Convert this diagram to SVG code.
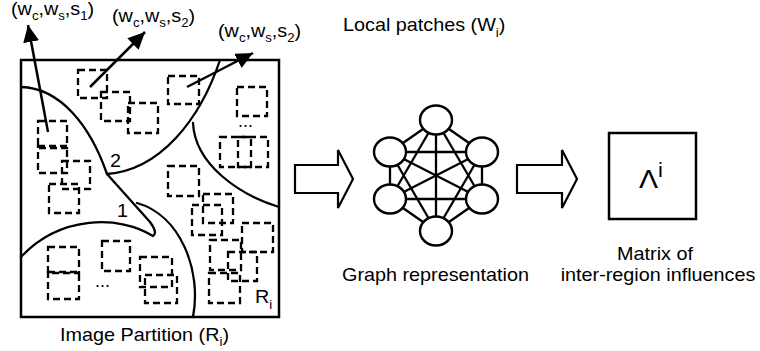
<svg xmlns="http://www.w3.org/2000/svg" width="760" height="351" viewBox="0 0 760 351">
  <style>
    text { font-family: "Liberation Sans", Arial, sans-serif; font-size: 18px; fill: #000; }
    .sub { font-size: 12px; }
    .frame { fill: none; stroke: #000; stroke-width: 2.5; }
    .edge { fill: none; stroke: #000; stroke-width: 2.3; stroke-linecap: round; }
    .patch { fill: none; stroke: #000; stroke-width: 2.3; stroke-dasharray: 7 4; }
    .ptr { fill: none; stroke: #000; stroke-width: 2.5; }
    .block { fill: #fff; stroke: #000; stroke-width: 2.2; stroke-linejoin: miter; }
    .link { stroke: #000; stroke-width: 2.3; }
    .vertex { fill: #fff; stroke: #000; stroke-width: 2.4; }
  </style>
  <defs>
    <marker id="head" markerUnits="userSpaceOnUse" markerWidth="20" markerHeight="16" refX="17" refY="8" orient="auto">
      <path d="M0,0 L17,8 L0,16 Z" fill="#000"/>
    </marker>
  </defs>
  <rect width="760" height="351" fill="#fff"/>

  <!-- image partition: frame, region boundaries, patches -->
  <g id="partition">
    <g id="patches">
      <rect class="patch" x="78" y="70" width="29" height="28"/>
      <rect class="patch" x="101" y="92" width="29" height="29"/>
      <rect class="patch" x="128" y="103" width="30" height="30"/>
      <rect class="patch" x="168" y="76" width="31" height="28"/>
      <rect class="patch" x="237" y="87" width="30" height="29"/>
      <rect class="patch" x="220" y="137" width="31" height="30"/>
      <rect class="patch" x="238" y="137" width="30" height="30"/>
      <rect class="patch" x="38" y="121" width="29" height="27"/>
      <rect class="patch" x="38" y="146" width="29" height="27"/>
      <rect class="patch" x="62" y="161" width="28" height="28"/>
      <rect class="patch" x="49" y="184" width="30" height="29"/>
      <rect class="patch" x="168" y="166" width="31" height="30"/>
      <rect class="patch" x="192" y="205" width="30" height="30"/>
      <rect class="patch" x="203" y="194" width="30" height="29"/>
      <rect class="patch" x="242" y="223" width="31" height="29"/>
      <rect class="patch" x="210" y="240" width="31" height="30"/>
      <rect class="patch" x="228" y="252" width="29" height="29"/>
      <rect class="patch" x="209" y="273" width="31" height="30"/>
      <rect class="patch" x="48" y="247" width="31" height="26"/>
      <rect class="patch" x="48" y="272" width="31" height="27"/>
      <rect class="patch" x="102" y="241" width="28" height="30"/>
      <rect class="patch" x="140" y="257" width="32" height="30"/>
      <rect class="patch" x="145" y="275" width="32" height="28"/>
      <text x="238" y="127">...</text>
      <text x="95" y="287">...</text>
    </g>
    <g id="regions">
      <path class="edge" d="M21,87 C60,88 90,125 107,174"/>
      <path class="edge" d="M107,174 C160,170 200,120 220,60"/>
      <path class="edge" d="M193,123 C195,165 240,195 279,207"/>
      <path class="edge" d="M107,174 L150,222 Q158,233 153,236 C120,215 60,215 21,257"/>
      <path class="edge" d="M137,203 C180,215 202,270 193,317"/>
    </g>
    <rect class="frame" x="21" y="60" width="258" height="257"/>
    <text transform="translate(110,167) scale(1.1,1)">2</text>
    <text transform="translate(117,217) scale(1.1,1)">1</text>
    <text transform="translate(255,303) scale(1.1,1)">R<tspan class="sub" dy="6">i</tspan></text>
    <text transform="translate(60,341) scale(1.1,1)">Image Partition (R<tspan class="sub" dy="5">i</tspan><tspan dy="-5">)</tspan></text>
  </g>

  <!-- patch descriptors -->
  <g id="descriptors">
    <text transform="translate(11,15) scale(1.1,1)">(w<tspan class="sub" dy="5">c</tspan><tspan dy="-5">,w</tspan><tspan class="sub" dy="5">s</tspan><tspan dy="-5">,s</tspan><tspan class="sub" dy="5">1</tspan><tspan dy="-5">)</tspan></text>
    <text transform="translate(112,22) scale(1.1,1)">(w<tspan class="sub" dy="5">c</tspan><tspan dy="-5">,w</tspan><tspan class="sub" dy="5">s</tspan><tspan dy="-5">,s</tspan><tspan class="sub" dy="5">2</tspan><tspan dy="-5">)</tspan></text>
    <text transform="translate(218,37) scale(1.1,1)">(w<tspan class="sub" dy="5">c</tspan><tspan dy="-5">,w</tspan><tspan class="sub" dy="5">s</tspan><tspan dy="-5">,s</tspan><tspan class="sub" dy="5">2</tspan><tspan dy="-5">)</tspan></text>
    <text transform="translate(343,31) scale(1.1,1)">Local patches (W<tspan class="sub" dy="6">i</tspan><tspan dy="-6">)</tspan></text>
  </g>

  <!-- graph of regions -->
  <g id="graph">
    <g id="graph-links">
      <line class="link" x1="436" y1="120" x2="390" y2="152"/>
      <line class="link" x1="436" y1="120" x2="482" y2="152"/>
      <line class="link" x1="390" y1="152" x2="390" y2="199"/>
      <line class="link" x1="482" y1="152" x2="482" y2="199"/>
      <line class="link" x1="390" y1="199" x2="436" y2="231"/>
      <line class="link" x1="482" y1="199" x2="436" y2="231"/>
      <line class="link" x1="390" y1="152" x2="482" y2="152"/>
      <line class="link" x1="390" y1="199" x2="482" y2="199"/>
      <line class="link" x1="436" y1="120" x2="436" y2="231"/>
      <line class="link" x1="436" y1="120" x2="390" y2="199"/>
      <line class="link" x1="436" y1="120" x2="482" y2="199"/>
      <line class="link" x1="436" y1="231" x2="390" y2="152"/>
      <line class="link" x1="436" y1="231" x2="482" y2="152"/>
      <line class="link" x1="390" y1="152" x2="482" y2="199"/>
      <line class="link" x1="482" y1="152" x2="390" y2="199"/>
    </g>
    <g id="v-top"><ellipse class="vertex" cx="436" cy="120" rx="16" ry="14.5"/></g>
    <g id="v-upper-left"><ellipse class="vertex" cx="390" cy="152" rx="16" ry="14.5"/></g>
    <g id="v-upper-right"><ellipse class="vertex" cx="482" cy="152" rx="16" ry="14.5"/></g>
    <g id="v-lower-left"><ellipse class="vertex" cx="390" cy="199" rx="16" ry="14.5"/></g>
    <g id="v-lower-right"><ellipse class="vertex" cx="482" cy="199" rx="16" ry="14.5"/></g>
    <g id="v-bottom"><ellipse class="vertex" cx="436" cy="231" rx="16" ry="14.5"/></g>
    <text transform="translate(435.5,281) scale(1.1,1)" text-anchor="middle">Graph representation</text>
  </g>

  <!-- influence matrix -->
  <g id="matrix">
    <rect class="frame" x="609" y="133" width="87" height="86"/>
    <text transform="translate(639,188) scale(1.1,1)" style="font-size:26px">Λ<tspan dy="-11" style="font-size:20px">i</tspan></text>
    <text transform="translate(655,260) scale(1.1,1)" text-anchor="middle">Matrix of</text>
    <text transform="translate(658,281) scale(1.1,1)" text-anchor="middle">inter-region influences</text>
  </g>

  <g id="connectors">
    <line class="ptr" x1="48" y1="132" x2="28" y2="25" marker-end="url(#head)"/>
    <line class="ptr" x1="90" y1="87" x2="145" y2="32" marker-end="url(#head)"/>
    <line class="ptr" x1="187" y1="87" x2="253" y2="53" marker-end="url(#head)"/>
    <path class="block" d="M295,165 H338 V150 L353,179 L338,208 V193 H295 Z"/>
    <path class="block" d="M517,165 H562 V150 L577,179 L562,208 V193 H517 Z"/>
  </g>
</svg>
